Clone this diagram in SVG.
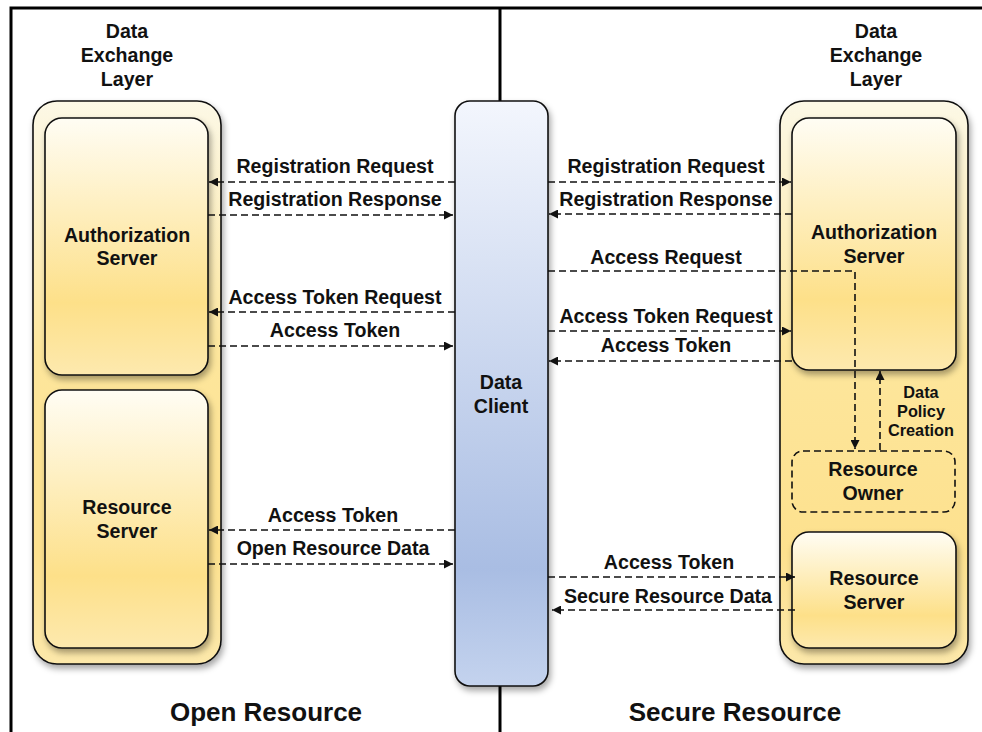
<svg xmlns="http://www.w3.org/2000/svg" width="982" height="732" viewBox="0 0 982 732">
<defs>
<style>
.t{font-family:"Liberation Sans",Arial,sans-serif;font-weight:bold;fill:#111;text-anchor:middle}
.lbl{font-size:19.6px}
.big{font-size:26px}
.sm{font-size:16.3px}
.frame{stroke:#000;stroke-width:3;fill:none}
.c{stroke:#111;stroke-width:1.6;stroke-dasharray:7,4;fill:none}
.box{stroke:#111;stroke-width:1.6}
</style>
<linearGradient id="gOuter" x1="0" y1="0" x2="0" y2="1">
<stop offset="0" stop-color="#fcf8e6"/>
<stop offset="0.45" stop-color="#fde69c"/>
<stop offset="0.8" stop-color="#fde18e"/>
<stop offset="1" stop-color="#fce8aa"/>
</linearGradient>
<linearGradient id="gInner" x1="0" y1="0" x2="0" y2="1">
<stop offset="0" stop-color="#fffdf4"/>
<stop offset="0.72" stop-color="#fde089"/>
<stop offset="1" stop-color="#fde9ae"/>
</linearGradient>
<linearGradient id="gClient" x1="0" y1="0" x2="0" y2="1">
<stop offset="0" stop-color="#f3f6fd"/>
<stop offset="0.8" stop-color="#a9bde3"/>
<stop offset="1" stop-color="#c4d3ee"/>
</linearGradient>
<filter id="sh" x="-20%" y="-20%" width="140%" height="140%">
<feDropShadow dx="2" dy="4" stdDeviation="3" flood-color="#000" flood-opacity="0.35"/>
</filter>
<marker id="ah" viewBox="0 0 10 10" markerUnits="userSpaceOnUse" markerWidth="11" markerHeight="9" refX="10" refY="5" orient="auto">
<path d="M0,0 L10,5 L0,10 z" fill="#111"/>
</marker>
</defs>
<rect width="982" height="732" fill="#fff"/>
<g id="frame">
<path class="frame" d="M11,732 L11,8 L982,8"/>
<line class="frame" x1="500" y1="8" x2="500" y2="101"/>
<line class="frame" x1="500" y1="686" x2="500" y2="732"/>
</g>
<g id="left-layer">
<rect class="box" x="33" y="101" width="188" height="563" rx="24" fill="url(#gOuter)" filter="url(#sh)"/>
<text class="t lbl" x="127" y="38">Data</text>
<text class="t lbl" x="127" y="62">Exchange</text>
<text class="t lbl" x="127" y="86">Layer</text>
</g>
<g id="left-auth">
<rect class="box" x="45" y="118" width="163" height="257" rx="17" fill="url(#gInner)" filter="url(#sh)"/>
<text class="t lbl" x="127" y="242">Authorization</text>
<text class="t lbl" x="127" y="265">Server</text>
</g>
<g id="left-resource">
<rect class="box" x="45" y="390" width="163" height="258" rx="17" fill="url(#gInner)" filter="url(#sh)"/>
<text class="t lbl" x="127" y="514">Resource</text>
<text class="t lbl" x="127" y="538">Server</text>
</g>
<g id="data-client">
<rect class="box" x="455" y="101" width="93" height="585" rx="15" fill="url(#gClient)" filter="url(#sh)"/>
<text class="t lbl" x="501" y="389">Data</text>
<text class="t lbl" x="501" y="413">Client</text>
</g>
<g id="right-layer">
<rect class="box" x="780" y="101" width="188" height="563" rx="24" fill="url(#gOuter)" filter="url(#sh)"/>
<text class="t lbl" x="876" y="38">Data</text>
<text class="t lbl" x="876" y="62">Exchange</text>
<text class="t lbl" x="876" y="86">Layer</text>
</g>
<g id="right-auth">
<rect class="box" x="792" y="118" width="164" height="252" rx="17" fill="url(#gInner)" filter="url(#sh)"/>
<text class="t lbl" x="874" y="239">Authorization</text>
<text class="t lbl" x="874" y="263">Server</text>
</g>
<g id="resource-owner">
<rect class="c" x="792" y="451" width="163" height="61" rx="11"/>
<text class="t lbl" x="873" y="476">Resource</text>
<text class="t lbl" x="873" y="500">Owner</text>
</g>
<g id="right-resource">
<rect class="box" x="792" y="532" width="164" height="116" rx="17" fill="url(#gInner)" filter="url(#sh)"/>
<text class="t lbl" x="874" y="585">Resource</text>
<text class="t lbl" x="874" y="609">Server</text>
</g>
<g id="connectors">
<line class="c" x1="455" y1="182" x2="209" y2="182" marker-end="url(#ah)"/>
<line class="c" x1="208" y1="215" x2="453" y2="215" marker-end="url(#ah)"/>
<line class="c" x1="455" y1="312" x2="209" y2="312" marker-end="url(#ah)"/>
<line class="c" x1="208" y1="346" x2="453" y2="346" marker-end="url(#ah)"/>
<line class="c" x1="455" y1="530" x2="209" y2="530" marker-end="url(#ah)"/>
<line class="c" x1="208" y1="564" x2="453" y2="564" marker-end="url(#ah)"/>
<line class="c" x1="548" y1="182" x2="791" y2="182" marker-end="url(#ah)"/>
<line class="c" x1="792" y1="214" x2="549" y2="214" marker-end="url(#ah)"/>
<path class="c" d="M548,271 L855,271 L855,449" marker-end="url(#ah)"/>
<line class="c" x1="548" y1="331" x2="791" y2="331" marker-end="url(#ah)"/>
<line class="c" x1="792" y1="361" x2="549" y2="361" marker-end="url(#ah)"/>
<line class="c" x1="880" y1="450" x2="880" y2="371" marker-end="url(#ah)"/>
<line class="c" x1="548" y1="577" x2="795" y2="577" marker-end="url(#ah)"/>
<line class="c" x1="795" y1="610" x2="552" y2="610" marker-end="url(#ah)"/>
</g>
<g id="labels">
<text class="t lbl" x="335" y="173">Registration Request</text>
<text class="t lbl" x="335" y="206">Registration Response</text>
<text class="t lbl" x="335" y="304">Access Token Request</text>
<text class="t lbl" x="335" y="337">Access Token</text>
<text class="t lbl" x="333" y="522">Access Token</text>
<text class="t lbl" x="333" y="555">Open Resource Data</text>
<text class="t lbl" x="666" y="173">Registration Request</text>
<text class="t lbl" x="666" y="206">Registration Response</text>
<text class="t lbl" x="666" y="264">Access Request</text>
<text class="t lbl" x="666" y="323">Access Token Request</text>
<text class="t lbl" x="666" y="352">Access Token</text>
<text class="t sm" x="921" y="398">Data</text>
<text class="t sm" x="921" y="417">Policy</text>
<text class="t sm" x="921" y="436">Creation</text>
<text class="t lbl" x="669" y="569">Access Token</text>
<text class="t lbl" x="668" y="603">Secure Resource Data</text>
<text class="t big" x="266" y="721">Open Resource</text>
<text class="t big" x="735" y="721">Secure Resource</text>
</g>
</svg>
